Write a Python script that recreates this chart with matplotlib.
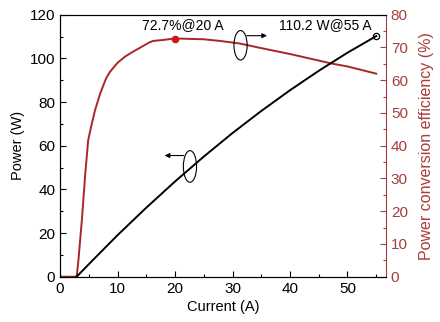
#!/usr/bin/env python3
"""Power and power conversion efficiency vs current."""
import matplotlib
matplotlib.use("Agg")
import matplotlib.pyplot as plt
from matplotlib.patches import Ellipse
from matplotlib.ticker import MultipleLocator

plt.rcParams["font.family"] = ["Liberation Sans", "DejaVu Sans"]

# output power (W) vs current (A)
current_p = [2.9, 5, 10, 15, 20, 25, 30, 35, 40, 45, 50, 55]
power = [0.0, 5.7, 19.0, 31.6, 43.6, 55.0, 65.8, 75.9, 85.4, 94.3, 102.6, 110.2]

# power conversion efficiency (%) vs current (A)
current_e = [0, 2.9, 3.2, 3.8, 4.4, 4.9, 5.5, 6.1, 7, 8, 8.7, 10, 11.3, 12.5,
             14.2, 15.5, 16.2, 18, 19.7, 21, 23, 25, 27.8, 30, 31.3, 35, 40,
             45, 47.2, 50, 55]
efficiency = [0, 0, 5, 17.3, 31.6, 41.7, 46.5, 50.9, 56, 60.5, 62.6, 65.3,
              67.2, 68.5, 70.2, 71.5, 72.0, 72.3, 72.7, 72.7, 72.6, 72.5, 72.0,
              71.5, 71.2, 69.8, 68.0, 66.0, 65.1, 64.2, 62.0]

peak_current, peak_eff = 20, 72.7
max_current, max_power = 55, 110.2

RED = "#a82626"
AXRED = "#a83c3c"

fig = plt.figure(figsize=(4.4, 3.22), dpi=100)
ax = fig.add_axes([0.1364, 0.1407, 0.7409, 0.8136])
ax2 = ax.twinx()

ax.plot(current_p, power, color="black", lw=1.4, zorder=3)
ax.plot([max_current], [max_power], marker="o", mfc="none", mec="black",
        ms=4.5, mew=0.9, zorder=4)
ax2.plot(current_e, efficiency, color=RED, lw=1.4)
ax2.plot([peak_current], [peak_eff], marker="o", color="#d01818", ms=4.5)

ax.set_xlim(0, 56.7)
ax.set_ylim(0, 120)
ax2.set_ylim(0, 80)
ax.set_zorder(ax2.get_zorder() + 1)
ax.patch.set_visible(False)

ax.xaxis.set_major_locator(MultipleLocator(10))
ax.xaxis.set_minor_locator(MultipleLocator(5))
ax.yaxis.set_major_locator(MultipleLocator(20))
ax.yaxis.set_minor_locator(MultipleLocator(10))
ax2.yaxis.set_major_locator(MultipleLocator(10))
ax2.yaxis.set_minor_locator(MultipleLocator(5))

ax.tick_params(which="both", direction="in", labelsize=11, top=False, right=False)
ax.tick_params(which="major", length=4, width=0.8)
ax.tick_params(which="minor", length=2.5, width=0.8)
ax2.tick_params(which="both", direction="in", labelsize=11, colors=AXRED)
ax2.tick_params(which="major", length=4, width=0.8)
ax2.tick_params(which="minor", length=2.5, width=0.8)
ax2.spines["right"].set_color(AXRED)
ax.spines["right"].set_visible(False)

ax.set_xlabel("Current (A)", fontsize=10.5, labelpad=3)
ax.set_ylabel("Power (W)", fontsize=10.5, labelpad=3)
ax2.set_ylabel("Power conversion efficiency (%)", fontsize=11.5, color=AXRED, labelpad=8)

ax.text(21.4, 112.3, "72.7%@20 A", fontsize=10, ha="center", va="bottom")
ax.text(46.2, 112.3, "110.2 W@55 A", fontsize=10, ha="center", va="bottom")

# ellipse + arrow markers pointing to the matching axis
ax.add_patch(Ellipse((31.4, 106), 2.3, 13.5, fill=False, ec="black", lw=0.8, zorder=5))
ax.annotate("", xy=(36.0, 110.4), xytext=(32.5, 110.4),
            arrowprops=dict(arrowstyle="-|>", color="black", lw=0.8,
                            mutation_scale=7, shrinkA=0, shrinkB=0))
ax.add_patch(Ellipse((22.6, 50.5), 2.3, 14.5, fill=False, ec="black", lw=0.8, zorder=5))
ax.annotate("", xy=(18.2, 55.5), xytext=(21.5, 55.5),
            arrowprops=dict(arrowstyle="-|>", color="black", lw=0.8,
                            mutation_scale=7, shrinkA=0, shrinkB=0))

fig.savefig("out.png", dpi=100)
